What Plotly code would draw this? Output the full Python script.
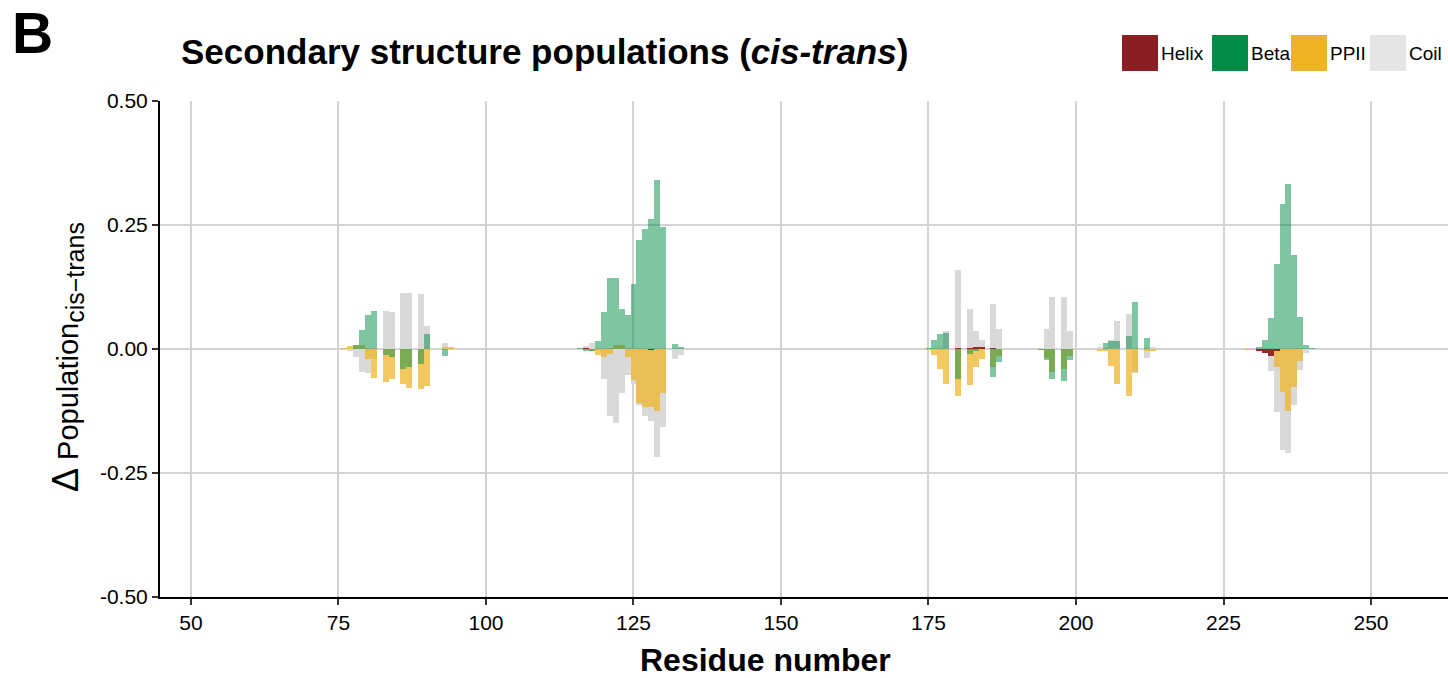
import plotly.graph_objects as go

# Residue positions and per-class population differences (cis minus trans)
residue = [76, 77, 78, 79, 80, 81, 83, 84, 86, 87, 89, 90, 93, 94,
           116, 117, 118, 119, 120, 121, 122, 123, 124, 125, 126, 127, 128, 129, 130, 132, 133,
           175, 176, 177, 178, 180, 182, 183, 184, 186, 187,
           194, 195, 196, 198, 199, 204, 205, 206, 207, 209, 210, 212, 213,
           229, 230, 231, 232, 233, 234, 235, 236, 237, 238, 239, 240]

helix = [0, 0, 0, 0, 0, 0, 0, 0, 0, 0, 0, 0, 0, 0,
         0, 0.002, 0, 0, 0, 0, 0, 0, 0, 0, 0, 0, -0.001, 0, 0, 0, 0,
         0, 0, 0, 0, 0.001, 0.002, 0.003, 0.003, 0.002, 0,
         0, 0, 0, 0, 0, 0, 0, 0, 0, 0, 0, 0, 0,
         0, 0, -0.003, -0.008, -0.014, -0.005, 0, 0, 0, 0, 0, 0]

beta = [0, 0, 0.008, 0.038, 0.069, 0.076, -0.012, -0.016, -0.040, -0.037, -0.030, 0.030, -0.015, 0,
        0.002, -0.004, -0.005, 0.016, 0.075, 0.143, 0.143, 0.081, 0.069, 0.131, 0.220, 0.242, 0.262, 0.341, 0.246, 0.010, 0.004,
        0.002, 0.018, 0.030, 0.032, -0.060, -0.010, -0.004, 0, -0.056, -0.026,
        -0.002, -0.022, -0.060, -0.065, -0.022, 0, 0.012, 0.016, 0.016, 0.026, 0.095, 0.022, 0,
        0, 0, 0.004, 0.018, 0.062, 0.171, 0.292, 0.333, 0.190, 0.065, 0.008, 0.002]

ppii = [0.002, 0.006, 0.008, 0.008, -0.020, -0.058, -0.066, -0.060, -0.071, -0.078, -0.080, -0.075, 0.003, 0.003,
        0, 0, -0.003, -0.012, -0.016, -0.010, 0.008, 0.008, -0.016, -0.0625, -0.109, -0.117, -0.117, -0.125, -0.089, 0, 0,
        -0.002, -0.012, -0.040, -0.071, -0.095, -0.073, -0.036, -0.020, -0.036, -0.014,
        -0.002, -0.018, -0.046, -0.040, -0.014, -0.004, -0.004, -0.034, -0.071, -0.095, -0.046, -0.004, -0.003,
        -0.001, -0.002, 0, -0.004, -0.010, -0.036, -0.087, -0.125, -0.077, -0.024, 0, 0]

coil = [0, -0.005, -0.017, -0.046, -0.049, -0.020, 0.077, 0.074, 0.113, 0.113, 0.111, 0.046, 0.013, 0,
        0, 0.006, 0.012, 0, -0.060, -0.135, -0.149, -0.089, -0.052, -0.071, -0.113, -0.135, -0.145, -0.218, -0.157, -0.020, -0.012,
        0, 0, 0, 0.036, 0.159, 0.081, 0.036, 0.018, 0.091, 0.040,
        0, 0.040, 0.105, 0.105, 0.036, 0.004, 0, 0.018, 0.056, 0.071, -0.048, -0.018, 0.003,
        0, 0, 0, 0, -0.044, -0.127, -0.204, -0.210, -0.113, -0.042, -0.008, 0]

x_ticks = [50, 75, 100, 125, 150, 175, 200, 225, 250]
y_ticks = [-0.5, -0.25, 0.0, 0.25, 0.5]
y_tick_labels = ["-0.50", "-0.25", "0.00", "0.25", "0.50"]

legend_names = ["Helix", "Beta", "PPII", "Coil"]
legend_colors = ["#8B1E22", "#008C46", "#F0B323", "#E5E5E5"]

FONT = "Liberation Sans, Arial, Helvetica, sans-serif"

fig = go.Figure()

# Drawing order: coil underneath, then PPII, beta and helix on top
for name, vals, color, alpha in [
    ("Coil", coil, "#D9D9D9", 1.0),
    ("PPII", ppii, "#F0B323", 0.72),
    ("Beta", beta, "#008C46", 0.5),
    ("Helix", helix, "#8B1A1A", 0.9),
]:
    fig.add_trace(go.Bar(
        x=residue, y=vals, name=name, width=1.0,
        marker=dict(color=color, opacity=alpha, line=dict(width=0)),
        showlegend=False,
    ))

# Plot area in pixels: left 160, right 1448, top 101, bottom 597
L, R, T, B = 160, 1448, 101, 597
def px(x):
    return (x - L) / (R - L)
def py(y):
    return (B - y) / (B - T)

annotations = [
    dict(text="<b>B</b>", x=px(10), y=py(33), xref="paper", yref="paper",
         xanchor="left", yanchor="middle", showarrow=False,
         font=dict(size=57, color="black", family=FONT)),
    dict(text="<b>Secondary structure populations (<i>cis-trans</i>)</b>",
         x=px(179), y=py(52), xref="paper", yref="paper",
         xanchor="left", yanchor="middle", showarrow=False,
         font=dict(size=35, color="black", family=FONT)),
    dict(text="<b>Residue number</b>", x=px(765), y=py(660), xref="paper", yref="paper",
         xanchor="center", yanchor="middle", showarrow=False,
         font=dict(size=32, color="black", family=FONT)),
    dict(text=("<span style='font-size:36px'>Δ</span> Population"
               "<sub><span style='font-size:25px'>cis−trans</span></sub>"),
         x=px(67), y=py(357),
         xref="paper", yref="paper", xanchor="center", yanchor="middle",
         textangle=-90, showarrow=False,
         font=dict(size=29, color="black", family=FONT)),
]

# Legend swatches with labels along the top right
shapes = []
box_left = [1122, 1212, 1291, 1370]
for name, color, bx in zip(legend_names, legend_colors, box_left):
    shapes.append(dict(type="rect", xref="paper", yref="paper",
                       x0=px(bx), x1=px(bx + 36), y0=py(71), y1=py(35),
                       fillcolor=color, line=dict(width=0), layer="above"))
    annotations.append(dict(text=name, x=px(bx + 37), y=py(53), xref="paper", yref="paper",
                            xanchor="left", yanchor="middle", showarrow=False,
                            font=dict(size=19, color="black", family=FONT)))

axis_common = dict(
    showgrid=True, gridcolor="#D3D3D3", gridwidth=2,
    showline=True, linecolor="black", linewidth=2,
    ticks="outside", ticklen=6, tickwidth=1.5, tickcolor="#333333",
    tickfont=dict(size=21, color="black", family=FONT),
    zeroline=False,
)

fig.update_layout(
    width=1448, height=678,
    margin=dict(l=L, r=1448 - R, t=T, b=678 - B),
    paper_bgcolor="white", plot_bgcolor="white",
    barmode="overlay", bargap=0,
    font=dict(family=FONT, color="black"),
    xaxis=dict(range=[44.75, 263.05], tickmode="array", tickvals=x_ticks, **axis_common),
    yaxis=dict(range=[-0.5, 0.5], tickmode="array", tickvals=y_ticks,
               ticktext=y_tick_labels, **axis_common),
    annotations=annotations,
    shapes=shapes,
)

fig.write_html("out.html")
